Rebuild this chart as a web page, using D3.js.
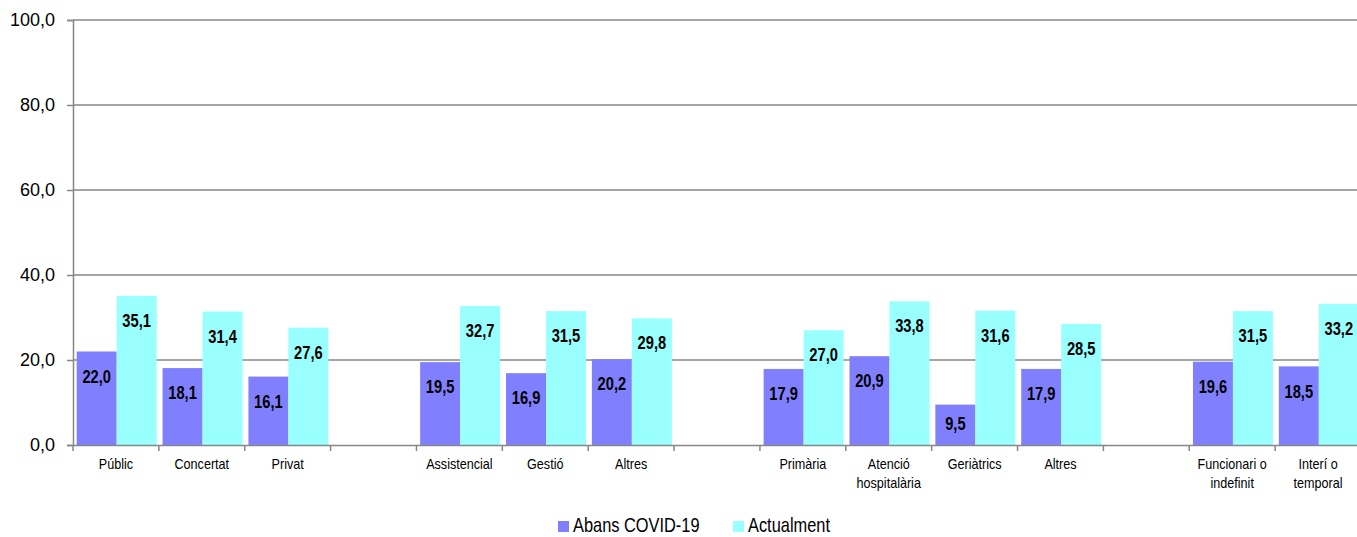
<!DOCTYPE html>
<html>
<head>
<meta charset="utf-8">
<script src="https://cdn.jsdelivr.net/npm/d3@7"></script>
<style>
html,body{margin:0;padding:0;background:#fff;}
svg{display:block;}
</style>
</head>
<body>
<svg id="chart" width="1357" height="537"></svg>
<script>
const categories = ["Públic","Concertat","Privat","","Assistencial","Gestió","Altres","","Primària","Atenció\nhospitalària","Geriàtrics","Altres","","Funcionari o\nindefinit","Interí o\ntemporal"];
const abans = [22.0,18.1,16.1,null,19.5,16.9,20.2,null,17.9,20.9,9.5,17.9,null,19.6,18.5];
const actualment = [35.1,31.4,27.6,null,32.7,31.5,29.8,null,27.0,33.8,31.6,28.5,null,31.5,33.2];
const seriesNames = ["Abans COVID-19","Actualment"];
const yTicks = [0,20,40,60,80,100];

const colors = ["#8080ff","#99ffff"];
const gridColor = "#878787";
const font = "'Liberation Sans',Arial,sans-serif";

const svg = d3.select("#chart");
const mLeft = 73, mRight = 1361, mTop = 20, mBottom = 445;

const x = d3.scaleBand().domain(d3.range(categories.length)).range([mLeft, mRight]).paddingInner(0).paddingOuter(0);
const bw = x.bandwidth();
const xs = d3.scaleBand().domain([0,1]).range([bw*0.043, bw*0.974]);
const y = d3.scaleLinear().domain([0,100]).range([mBottom, mTop]);

// helper: horizontally condensed text
function ctext(g, tx, ty, sx){
  return g.append("text").attr("transform", `translate(${tx},${ty}) scale(${sx},1)`);
}

// gridlines
svg.append("g").selectAll("line").data(yTicks.filter(d=>d>0)).join("line")
  .attr("x1", mLeft).attr("x2", mRight)
  .attr("y1", d=>y(d)).attr("y2", d=>y(d))
  .attr("stroke", gridColor).attr("stroke-width", 1.5);

// bars
const data = [];
categories.forEach((c,i)=>{
  [abans[i], actualment[i]].forEach((v,s)=>{ if(v!=null) data.push({i, s, v}); });
});
svg.append("g").selectAll("rect").data(data).join("rect")
  .attr("x", d=>x(d.i)+xs(d.s))
  .attr("width", xs.bandwidth())
  .attr("y", d=>y(d.v))
  .attr("height", d=>y(0)-y(d.v))
  .attr("fill", d=>colors[d.s]);

// value labels
const fmt = v => v.toFixed(1).replace(".", ",");
const vl = svg.append("g");
data.forEach(d=>{
  const t = y(d.v);
  const cy = Math.min(t+25, (t+y(0))/2 - 1);
  ctext(vl, x(d.i)+xs(d.s)+xs.bandwidth()/2, cy, 0.84)
    .attr("dy","0.35em").attr("text-anchor","middle")
    .attr("font-family", font).attr("font-weight","bold").attr("font-size", 17.5)
    .attr("fill","#000").text(fmt(d.v));
});

// y axis
const yAxis = d3.axisLeft(y).tickValues(yTicks).tickSize(6).tickPadding(12).tickFormat(d=>d.toFixed(1).replace(".", ","));
const gy = svg.append("g").attr("transform",`translate(${mLeft},0)`).call(yAxis);
gy.select(".domain").attr("stroke", gridColor).attr("stroke-width",1.5);
gy.selectAll(".tick line").attr("stroke", gridColor).attr("stroke-width",1.5);
gy.selectAll(".tick text").attr("font-family", font).attr("font-size", 18).attr("fill","#000");

// x axis
const xAxis = d3.axisBottom(x).tickSize(0).tickFormat("");
const gx = svg.append("g").attr("transform",`translate(0,${mBottom})`).call(xAxis);
gx.select(".domain").attr("stroke", gridColor).attr("stroke-width",1.5);
gx.selectAll(".tick").remove();
svg.append("g").selectAll("line").data(d3.range(categories.length)).join("line")
  .attr("x1", d=>x(d)).attr("x2", d=>x(d))
  .attr("y1", mBottom).attr("y2", mBottom+6)
  .attr("stroke", gridColor).attr("stroke-width",1.5);

// category labels
const cg = svg.append("g");
categories.forEach((c,i)=>{
  if(!c) return;
  const t = ctext(cg, x(i)+bw/2, 469, 0.9)
    .attr("text-anchor","middle").attr("font-family", font).attr("font-size", 14).attr("fill","#000");
  c.split("\n").forEach((l,k)=>{
    t.append("tspan").attr("x",0).attr("dy", k===0?0:19).text(l);
  });
});

// legend
const legendItems = [{name:seriesNames[0], x:558, tx:573},{name:seriesNames[1], x:733, tx:748}];
const lg = svg.append("g");
legendItems.forEach((it,k)=>{
  lg.append("rect").attr("x", it.x).attr("y", 521).attr("width", 11).attr("height", 11).attr("fill", colors[k]);
  ctext(lg, it.tx, 532, 0.82).attr("font-family", font).attr("font-size", 20).attr("fill","#000").text(it.name);
});
</script>
</body>
</html>
